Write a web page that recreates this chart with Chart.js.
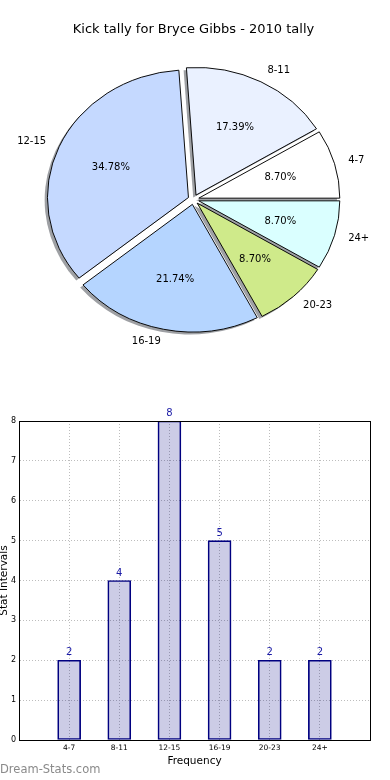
<!DOCTYPE html>
<html>
<head>
<meta charset="utf-8">
<script src="https://cdn.jsdelivr.net/npm/chart.js@4/dist/chart.umd.min.js"></script>
<style>
  body { margin: 0; background: #fff; }
  #wrap { position: relative; width: 390px; height: 780px; overflow: hidden; }
  #pie { position: absolute; left: 0; top: 0; }
  #bars { position: absolute; left: 0; top: 380px; }
  #mark { position: absolute; left: 0; top: 762px; font: 11.5px "DejaVu Sans", sans-serif; line-height: 14px; color: #8a8a8a; }
</style>
</head>
<body>
<div id="wrap">
  <canvas id="pie" width="390" height="375"></canvas>
  <canvas id="bars" width="390" height="400"></canvas>
  <div id="mark">Dream-Stats.com</div>
</div>
<script>
// data
var categories = ['4-7', '8-11', '12-15', '16-19', '20-23', '24+'];
var counts = [2, 4, 8, 5, 2, 2];
var yTicks = [0, 1, 2, 3, 4, 5, 6, 7, 8];
var chartTitle = 'Kick tally for Bryce Gibbs - 2010 tally';

var pieColors = ['#ffffff', '#eaf1ff', '#c5d9ff', '#b5d5ff', '#cfea8a', '#daffff'];
var EXPLODE = 5.5;   // px each wedge is pushed out
var SQUASH = 0.905;  // pie is an ellipse in the original
var FONT = 'DejaVu Sans';

Chart.defaults.font.family = FONT;
Chart.defaults.color = '#000';
Chart.defaults.animation = false;

// matplotlib draws slices counter-clockwise from 3 o'clock, chart.js goes clockwise
var pieLabels = categories.slice().reverse();
var pieData = counts.slice().reverse();
var pieFill = pieColors.slice().reverse();
var total = counts.reduce(function (a, b) { return a + b; }, 0);

function tweakArc() {
  var base = Chart.ArcElement.prototype.draw;
  Chart.ArcElement.prototype.draw = function (ctx) {
    var mid = (this.startAngle + this.endAngle) / 2;
    ctx.save();
    ctx.translate(Math.cos(mid) * EXPLODE, Math.sin(mid) * EXPLODE);
    base.call(this, ctx);
    ctx.restore();
  };
}
tweakArc();

var pieDeco = {
  id: 'pieDeco',
  beforeDatasetsDraw: function (chart) {
    var ctx = chart.ctx;
    var arcs = chart.getDatasetMeta(0).data;
    var cx = arcs[0].x, cy = arcs[0].y;
    ctx.save();
    ctx.translate(cx, cy);
    ctx.scale(1, SQUASH);
    ctx.translate(-cx, -cy);
    // shadow under every wedge
    ctx.fillStyle = '#9ea0a4';
    arcs.forEach(function (a) {
      var mid = (a.startAngle + a.endAngle) / 2;
      var ox = a.x + Math.cos(mid) * EXPLODE - 2.8;
      var oy = a.y + Math.sin(mid) * EXPLODE + 2.8;
      ctx.beginPath();
      ctx.moveTo(ox, oy);
      ctx.arc(ox, oy, a.outerRadius, a.startAngle, a.endAngle);
      ctx.closePath();
      ctx.fill();
    });
  },
  afterDatasetsDraw: function (chart) {
    var ctx = chart.ctx;
    ctx.restore();
    var arcs = chart.getDatasetMeta(0).data;
    ctx.save();
    ctx.font = '10px "' + FONT + '"';
    ctx.fillStyle = '#000';
    ctx.textBaseline = 'middle';
    arcs.forEach(function (a, i) {
      var mid = (a.startAngle + a.endAngle) / 2;
      var c = Math.cos(mid), s = Math.sin(mid);
      var r = a.outerRadius;
      var pct = (pieData[i] / total * 100).toFixed(2) + '%';
      ctx.textAlign = 'center';
      ctx.fillText(pct, a.x + c * (EXPLODE + 0.6 * r), a.y + s * (EXPLODE + 0.6 * r) * SQUASH);
      ctx.textAlign = c > 0 ? 'left' : 'right';
      ctx.fillText(pieLabels[i], a.x + c * (EXPLODE + 1.1 * r), a.y + s * (EXPLODE + 1.1 * r) * SQUASH);
    });
    ctx.restore();
  }
};

new Chart(document.getElementById('pie'), {
  type: 'pie',
  data: {
    labels: pieLabels,
    datasets: [{
      data: pieData,
      backgroundColor: pieFill,
      borderColor: '#000',
      borderWidth: 1,
      radius: 141
    }]
  },
  options: {
    responsive: false,
    events: [],
    rotation: 90,
    layout: { padding: { left: 0, right: 3, top: 0, bottom: 23.6 } },
    plugins: {
      legend: { display: false },
      tooltip: { enabled: false },
      title: {
        display: true,
        text: chartTitle,
        color: '#000',
        font: { size: 13, weight: 'normal', family: FONT },
        padding: { top: 22, bottom: 10 }
      }
    }
  },
  plugins: [pieDeco]
});

var barDeco = {
  id: 'barDeco',
  afterDatasetsDraw: function (chart) {
    var ctx = chart.ctx;
    var a = chart.chartArea;
    ctx.save();
    ctx.strokeStyle = '#000';
    ctx.lineWidth = 1;
    ctx.setLineDash([]);
    ctx.strokeRect(Math.round(a.left) + 0.5, Math.round(a.top) + 0.5,
      Math.round(a.right - a.left), Math.round(a.bottom - a.top));
    ctx.font = '10px "' + FONT + '"';
    ctx.fillStyle = '#1a1aa6';
    ctx.textAlign = 'center';
    ctx.textBaseline = 'alphabetic';
    chart.getDatasetMeta(0).data.forEach(function (bar, i) {
      ctx.fillText(String(counts[i]), bar.x, bar.y - 5);
    });
    ctx.restore();
  }
};

var gridStyle = { color: '#bdbdbd', lineWidth: 1, drawTicks: false, offset: false };
var borderStyle = { display: true, color: '#000', dash: [1, 2] };

new Chart(document.getElementById('bars'), {
  type: 'bar',
  data: {
    datasets: [{
      data: categories.map(function (c, i) { return { x: i, y: counts[i] }; }),
      backgroundColor: 'rgba(0,0,128,0.2)',
      borderColor: '#000080',
      borderWidth: 1,
      borderSkipped: false,
      barThickness: 23
    }]
  },
  options: {
    responsive: false,
    events: [],
    layout: { padding: { left: 0, right: 20, top: 41, bottom: 0 } },
    plugins: { legend: { display: false }, tooltip: { enabled: false } },
    scales: {
      x: {
        type: 'linear',
        offset: false,
        min: -1,
        max: categories.length,
        grid: gridStyle,
        border: borderStyle,
        ticks: {
          stepSize: 1,
          autoSkip: false,
          maxRotation: 0,
          padding: 4,
          font: { size: 7.5 },
          callback: function (v) { return categories[v] || ''; }
        },
        title: { display: true, text: 'Frequency', font: { size: 10.5 }, padding: { top: 0, bottom: 12.7 } },
        afterFit: function (s) { s.height = 40; }
      },
      y: {
        min: yTicks[0],
        max: yTicks[yTicks.length - 1],
        grid: gridStyle,
        border: borderStyle,
        ticks: { stepSize: 1, padding: 3, font: { size: 8 } },
        title: { display: true, text: 'Stat Intervals', font: { size: 10.5 }, padding: { top: -2, bottom: 0 } },
        afterFit: function (s) { s.width = 19; }
      }
    }
  },
  plugins: [barDeco]
});
</script>
</body>
</html>
